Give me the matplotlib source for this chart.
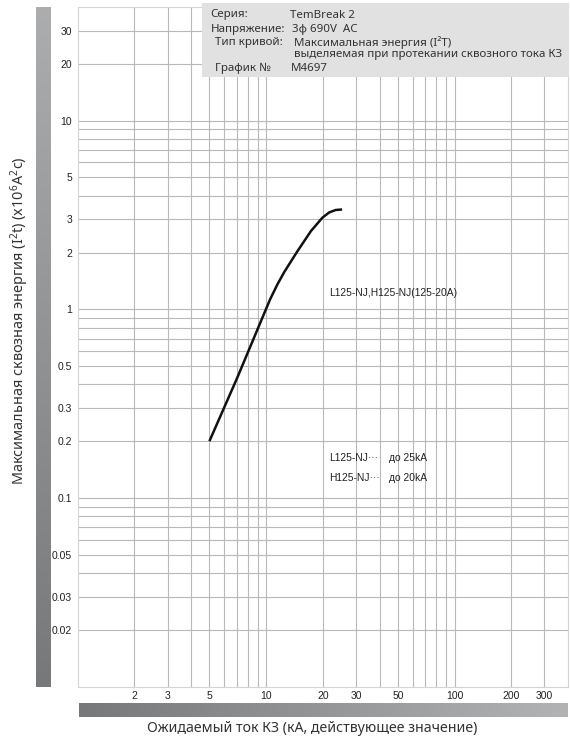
import numpy as np
import matplotlib
matplotlib.use("Agg")
from matplotlib import pyplot as plt
from matplotlib.colors import LinearSegmentedColormap
from matplotlib.patches import Rectangle

# кривая I2t
current_ka = [5, 7, 10.5, 11.5, 12.5, 14.7, 17.3, 19.9, 21.6, 23.4, 25.3]
energy = [0.2, 0.43, 1.13, 1.36, 1.58, 2.04, 2.6, 3.06, 3.26, 3.36, 3.38]

x_major = [2, 3, 5, 10, 20, 30, 50, 100, 200, 300]
x_minor = [4, 6, 7, 8, 9, 40, 60, 70, 80, 90]
y_major = [0.02, 0.03, 0.05, 0.1, 0.2, 0.3, 0.5, 1, 2, 3, 5, 10, 20, 30]
y_major_labels = ["0.02", "0.03", "0.05", "0.1", "0.2", "0.3", "0.5",
                  "1", "2", "3", "5", "10", "20", "30"]
y_minor = [0.04, 0.06, 0.07, 0.08, 0.09, 0.4, 0.6, 0.7, 0.8, 0.9,
           4, 6, 7, 8, 9]

info_keys = ["Серия:", "Напряжение:", "Тип кривой:", "", "График №"]
info_vals = ["TemBreak 2", "3ϕ 690V  AC", "Максимальная энергия (I²T)",
             "выделяемая при протекании сквозного тока КЗ", "M4697"]

W, H = 570, 739
plt.rcParams['mathtext.fontset'] = 'custom'
plt.rcParams['mathtext.rm'] = 'Noto Sans'
plt.rcParams['mathtext.it'] = 'Noto Sans'

fig = plt.figure(figsize=(W / 100, H / 100), dpi=100)

def fx(px):
    return px / W

def fy(py):
    return 1 - py / H

ax = fig.add_axes([fx(77.7), fy(686.7), fx(568 - 77.7), (686.7 - 7) / H])
ax.set_xscale("log")
ax.set_yscale("log")
ax.set_xlim(1, 400)
ax.set_ylim(0.01, 40)

ax.set_xticks(x_major)
ax.set_xticklabels([str(v) for v in x_major])
ax.set_xticks(x_minor, minor=True)
ax.set_xticklabels([], minor=True)
ax.set_yticks(y_major)
ax.set_yticklabels(y_major_labels)
ax.set_yticks(y_minor, minor=True)
ax.set_yticklabels([], minor=True)
ax.tick_params(which="both", length=0)
ax.tick_params(axis="y", pad=4)
ax.tick_params(axis="x", pad=3)
for lab in ax.get_xticklabels() + ax.get_yticklabels():
    lab.set_family("Liberation Sans")
    lab.set_fontsize(7.5)
    lab.set_color("#222222")

ax.grid(True, which="both", color="#b8b8b8", lw=0.8)
ax.set_axisbelow(True)
for s in ax.spines.values():
    s.set_color("#d4d4d4")
    s.set_linewidth(0.8)

ax.plot(current_ka, energy, color="#111111", lw=1.8, solid_capstyle="butt",
        solid_joinstyle="round", zorder=3)

# подписи на поле графика
txt = dict(fontsize=7.4, family="Liberation Sans", va="center", color="#222222")
ax.text(21.5, 1.22, "L125-NJ,H125-NJ(125-20A)", **txt)
ax.text(21.5, 0.162, "L125-NJ···", **txt)
ax.text(21.5, 0.127, "H125-NJ···", **txt)
ax.text(45, 0.162, "до 25kA", **txt)
ax.text(45, 0.127, "до 20kA", **txt)

# серый блок с информацией
box = Rectangle((fx(202), fy(77)), fx(569 - 202), 74 / H, transform=fig.transFigure,
                facecolor="#e1e1e1", edgecolor="none", zorder=5, clip_on=False)
ax.add_artist(box)
rows_y = [15, 29.3, 42.7, 54.3, 68.3]
keys_x = [210.7, 210.7, 215, 215, 215]
vals_x = [290, 291.7, 294, 294, 290.7]
for i in range(len(info_keys)):
    fig.text(fx(keys_x[i]), fy(rows_y[i]), info_keys[i], family="Noto Sans", fontsize=8.3,
             va="center", color="#333333", zorder=6)
    fig.text(fx(vals_x[i]), fy(rows_y[i]), info_vals[i], family="Noto Sans", fontsize=8.3,
             va="center", color="#333333", zorder=6)

# градиентные полосы
cm_left = LinearSegmentedColormap.from_list("l", ["#acadaf", "#77787a"])
bar_l = fig.add_axes([fx(36), fy(686.7), fx(15), (686.7 - 7) / H])
bar_l.imshow(np.linspace(0, 1, 256).reshape(-1, 1), aspect="auto", cmap=cm_left)
bar_l.axis("off")

cm_bot = LinearSegmentedColormap.from_list("b", ["#77787a", "#b2b3b5"])
bar_b = fig.add_axes([fx(79), fy(717), fx(489), 14 / H])
bar_b.imshow(np.linspace(0, 1, 256).reshape(1, -1), aspect="auto", cmap=cm_bot)
bar_b.axis("off")

fig.text(fx(20), fy(321), "Максимальная сквозная энергия (I$^2$t) (x10$^6$A$^2$c)",
         rotation=90, ha="center", va="center", family="Noto Sans", fontsize=10.4,
         color="#333333")
fig.text(fx(312), fy(728), "Ожидаемый ток КЗ (кА, действующее значение)",
         ha="center", va="center", family="Noto Sans", fontsize=10.2, color="#333333")

fig.savefig("out.png", dpi=100)
